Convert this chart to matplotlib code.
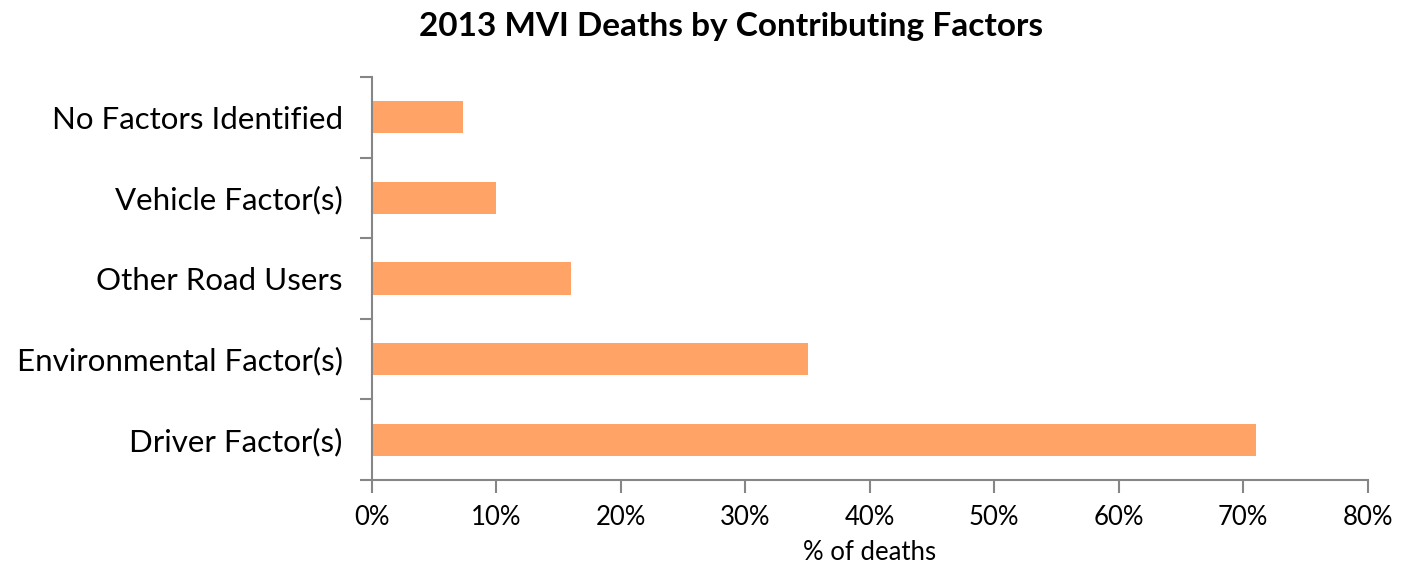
import matplotlib.pyplot as plt
import matplotlib.ticker as mticker
import numpy as np

categories = ["Driver Factor(s)", "Environmental Factor(s)", "Other Road Users",
              "Vehicle Factor(s)", "No Factors Identified"]
pct_deaths = [71.0, 35.0, 16.0, 10.0, 7.3]
x_ticks = [0, 10, 20, 30, 40, 50, 60, 70, 80]

plt.rcParams['font.family'] = ['Lato', 'DejaVu Sans']

fig = plt.figure(figsize=(14.08, 5.66), dpi=100)
ax = fig.add_axes([0.2642, 0.152, 0.7072, 0.712])

y = np.arange(len(categories))
ax.barh(y, pct_deaths, height=0.4, color="#FFA466")

ax.set_xlim(0, 80)
ax.set_ylim(-0.5, len(categories) - 0.5)
ax.set_xticks(x_ticks)
ax.xaxis.set_major_formatter(mticker.FuncFormatter(lambda v, p: f"{v:.0f}%"))
ax.set_yticks(y)
ax.set_yticklabels(categories)
ax.set_yticks(np.arange(len(categories) + 1) - 0.5, minor=True)

for s in ["top", "right"]:
    ax.spines[s].set_visible(False)
for s in ["left", "bottom"]:
    ax.spines[s].set_color("#868686")
    ax.spines[s].set_linewidth(1.5)

ax.tick_params(axis="y", which="major", length=0, labelsize=22.5, pad=21)
ax.tick_params(axis="y", which="minor", length=9, width=1.5, color="#868686")
ax.tick_params(axis="x", length=9, width=1.5, color="#868686", labelsize=18.5, pad=9)

ax.set_xlabel("% of deaths", fontsize=18.5, labelpad=7)
fig.suptitle("2013 MVI Deaths by Contributing Factors", fontsize=24,
             fontweight="bold", x=0.519, y=0.978)

fig.savefig("out.png", dpi=100)
